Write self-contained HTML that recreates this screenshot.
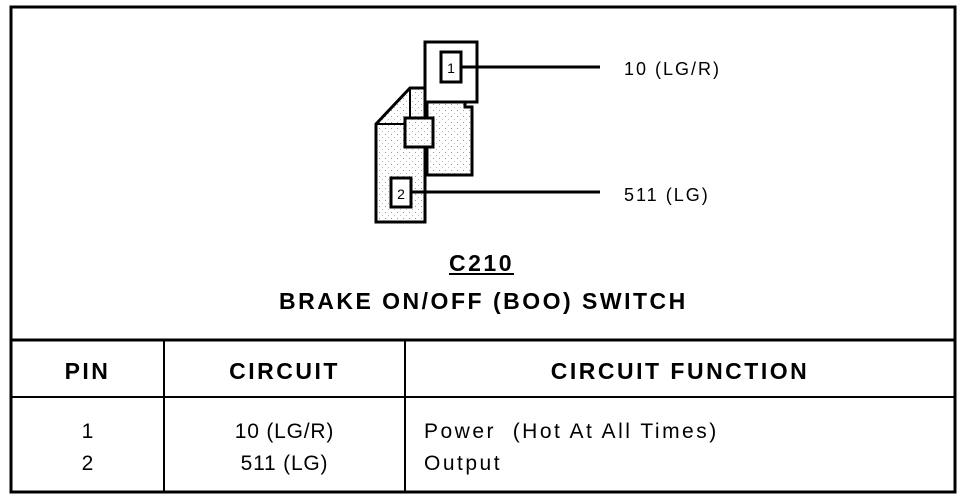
<!DOCTYPE html>
<html><head><style>
body{margin:0;background:#fff;width:976px;height:500px;overflow:hidden;position:relative;font-family:"Liberation Sans",Arial,sans-serif;}
.t{position:absolute;white-space:nowrap;color:#000;}
.b{font-size:23px;font-weight:bold;letter-spacing:2.5px;}
</style></head><body>
<svg width="976" height="500" style="position:absolute;left:0;top:0">
<defs><pattern id="d" width="6" height="6" patternUnits="userSpaceOnUse"><rect width="6" height="6" fill="#fff"/><rect x="1" y="2" width="1" height="1" fill="#999"/><rect x="4" y="5" width="1" height="1" fill="#bbb"/></pattern></defs>
<rect x="11" y="7" width="944" height="485" fill="none" stroke="#000" stroke-width="3"/>
<line x1="10" y1="340" x2="956" y2="340" stroke="#000" stroke-width="3"/>
<line x1="10" y1="397" x2="956" y2="397" stroke="#000" stroke-width="2"/>
<line x1="164" y1="340" x2="164" y2="492" stroke="#000" stroke-width="2"/>
<line x1="405" y1="340" x2="405" y2="492" stroke="#000" stroke-width="2"/>
<g stroke="#000" stroke-width="3" stroke-linejoin="miter">
<path d="M427 102 L465 102 L465 107 L472 107 L472 175 L427 175 Z" fill="url(#d)"/>
<rect x="425" y="42" width="52" height="60" fill="#fff"/>
<path d="M376 124 L410 88 L425 88 L425 222 L376 222 Z" fill="url(#d)"/>
<path d="M376 124 L410 124 L410 88" fill="none" stroke-width="2"/>
<rect x="405" y="118" width="28" height="29" fill="url(#d)"/>
<rect x="441" y="52" width="20" height="30" fill="#fff"/>
<rect x="391" y="178" width="20" height="29" fill="#fff"/>
<line x1="461" y1="67" x2="600" y2="67"/>
<line x1="411" y1="192" x2="600" y2="192"/>
</g>
<text x="451" y="73" font-size="14" text-anchor="middle" font-family="Liberation Sans">1</text>
<text x="401" y="199" font-size="14" text-anchor="middle" font-family="Liberation Sans">2</text>
</svg>
<div class="t" style="left:624px;top:59px;font-size:18px;letter-spacing:2px">10 (LG/R)</div>
<div class="t" style="left:624px;top:185px;font-size:18px;letter-spacing:2px">511 (LG)</div>
<div class="t b" style="left:449px;top:250px;text-decoration:underline">C210</div>
<div class="t b" style="left:279px;top:288px">BRAKE ON/OFF (BOO) SWITCH</div>
<div class="t b" style="left:11px;width:153px;text-align:center;top:358px">PIN</div>
<div class="t b" style="left:164px;width:241px;text-align:center;top:358px">CIRCUIT</div>
<div class="t b" style="left:405px;width:550px;text-align:center;top:358px">CIRCUIT FUNCTION</div>
<div class="t" style="left:11px;width:153px;text-align:center;top:416px;font-size:21px;line-height:32px">1<br>2</div>
<div class="t" style="left:164px;width:241px;text-align:center;top:416px;font-size:21px;line-height:32px;letter-spacing:0.8px">10 (LG/R)<br>511 (LG)</div>
<div class="t" style="left:424px;top:416px;font-size:21px;line-height:32px;letter-spacing:2.5px">Power&nbsp; (Hot At All Times)<br>Output</div>
</body></html>
